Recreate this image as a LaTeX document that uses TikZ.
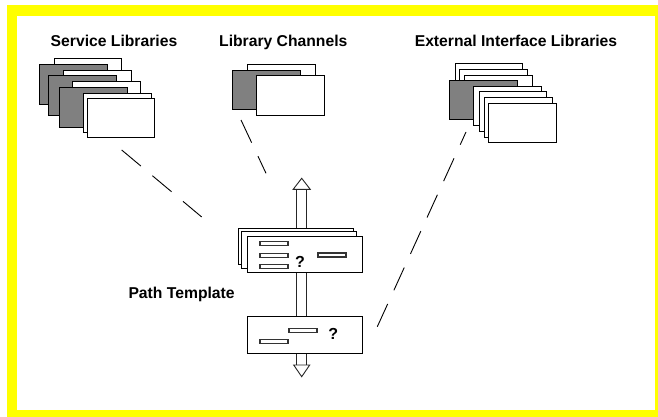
\documentclass[tikz,border=0pt]{standalone}
\usepackage{fontspec}
\setmainfont{Liberation Sans}
\definecolor{framey}{RGB}{255,255,0}
\definecolor{cardgray}{RGB}{128,128,128}
\begin{document}
\begin{tikzpicture}[x=1pt,y=-1pt,
  card/.style={draw=black, line width=0.9pt, fill=white, minimum width=67.6pt,
    minimum height=39.2pt, inner sep=0pt, outer sep=0pt, anchor=north west},
  gcard/.style={card, fill=cardgray},
  panel/.style={draw=black, line width=0.9pt, fill=white, minimum width=115pt,
    minimum height=36.5pt, inner sep=0pt, outer sep=0pt, anchor=north west},
  slot/.style={draw=black!80, line width=1.5pt, fill=white, minimum width=28pt,
    minimum height=4pt, inner sep=0pt, anchor=center},
  title/.style={font=\fontsize{15.7}{18}\selectfont\bfseries, inner sep=0pt, anchor=base},
  qmark/.style={font=\fontsize{16}{18}\selectfont\bfseries, inner sep=0pt, anchor=base},
  link/.style={draw=black, line width=0.9pt, dash pattern=on 25pt off 15pt},
  flow/.style={draw=black!85, line width=0.9pt, fill=white, line join=miter},
]
\useasboundingbox (0,0) rectangle (658,417);

% yellow frame
\fill[framey] (7,5) rectangle (658,417);
\fill[white] (17,16) rectangle (655,410);

% titles
\node[title] (tsvc) at (114,46.7) {Service Libraries};
\node[title] (tchn) at (283.3,46.7) {Library Channels};
\node[title] (text) at (516,46.7) {External Interface Libraries};
\node[title, anchor=base west] (tpath) at (128.3,298) {Path Template};

% service library stack
\node[card]  (s1) at (54.2,58.2) {};
\node[gcard] (s2) at (39.5,64.8) {};
\node[card]  (s3) at (63.8,70.5) {};
\node[gcard] (s4) at (48.8,75.8) {};
\node[card]  (s5) at (72.8,81.2) {};
\node[gcard] (s6) at (59.5,87.8) {};
\node[card]  (s7) at (83.8,93.2) {};
\node[card]  (s8) at (87.2,98.2) {};

% library channel stack
\node[card]  (c1) at (247.5,64.8) {};
\node[gcard] (c2) at (232.8,70.5) {};
\node[card]  (c3) at (256.8,75.8) {};

% external interface library stack
\node[card]  (e1) at (455.2,63.8) {};
\node[card]  (e2) at (459.8,69.2) {};
\node[card]  (e3) at (464.8,75.2) {};
\node[gcard] (e4) at (449.8,80.5) {};
\node[card]  (e5) at (473.8,86.5) {};
\node[card]  (e6) at (479.2,91.8) {};
\node[card]  (e7) at (484.5,97.8) {};
\node[card]  (e8) at (488.8,103.2) {};

% two-way flow through the path template
\draw[flow] (296.7,189.3) rectangle (306.7,365);
\draw[flow] (293.2,189.3) -- (310.2,189.3) -- (301.7,178.3) -- cycle;
\draw[flow] (293.7,365) -- (309.7,365) -- (301.7,376.7) -- cycle;

% path template panels
\node[panel] (p1) at (238.2,228.2) {};
\node[panel] (p2) at (241.2,231.8) {};
\node[panel] (p3) at (247.8,236.2) {};
\node[slot] (r1) at (273.9,243.4) {};
\node[slot] (r2) at (273.9,255.5) {};
\node[slot] (r3) at (273.9,266.4) {};
\node[slot] (r4) at (331.9,255.2) {};
\node[qmark] (q1) at (300,267.3) {?};

\node[panel, minimum height=37.5pt] (p4) at (247.8,316.2) {};
\node[slot] (r5) at (303,330.4) {};
\node[slot] (r6) at (273.9,341.3) {};
\node[qmark] (q2) at (333.3,339.3) {?};

% dashed associations
\coordinate (a1) at (121.7,150);
\coordinate (b1) at (201.7,217);
\coordinate (a2) at (241,120);
\coordinate (b2) at (266,173.3);
\coordinate (a3) at (377.3,326.7);
\coordinate (b3) at (466,132);
\draw[link] (a1) -- (b1);
\draw[link] (a2) -- (b2);
\draw[link] (a3) -- (b3);
\end{tikzpicture}
\end{document}
